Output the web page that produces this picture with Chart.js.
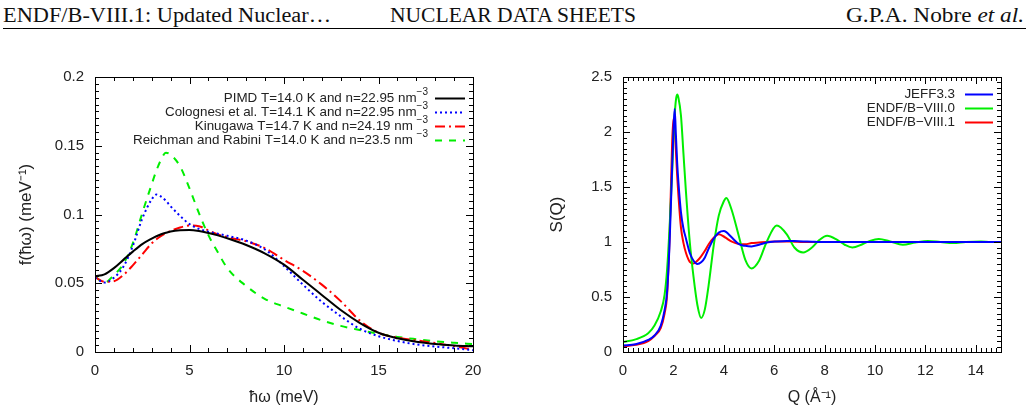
<!DOCTYPE html>
<html>
<head>
<meta charset="utf-8">
<script src="https://cdn.jsdelivr.net/npm/chart.js@4.4.1/dist/chart.umd.min.js"></script>
<style>
  body { margin: 0; width: 1029px; height: 411px; background: #fff; position: relative; overflow: hidden; }
  .hd { position: absolute; top: 4px; font-family: "Liberation Serif", serif; font-size: 20px; white-space: nowrap; transform-origin: left top; color: #111; }
  #rule { position: absolute; left: 3px; top: 28px; width: 1023px; height: 1px; background: #000; }
  canvas { position: absolute; top: 40px; }
</style>
</head>
<body>
<div class="hd" id="h1" style="left:3px">ENDF/B-VIII.1: Updated Nuclear…</div>
<div class="hd" id="h2" style="left:390px">NUCLEAR DATA SHEETS</div>
<div class="hd" id="h3" style="left:846px">G.P.A. Nobre <i>et al.</i></div>
<div id="rule"></div>
<canvas id="dos" width="515" height="371" style="left:0"></canvas>
<canvas id="sq" width="514" height="371" style="left:515px"></canvas>
<script>
// left panel: frequency spectrum f(hw)
const hw = [0, 0.5, 1, 1.5, 2, 2.5, 3, 3.25, 3.5, 3.75, 4, 4.5, 5, 5.5, 6, 6.5, 7, 8, 9, 10, 11, 12, 13, 14, 15, 16, 17, 18, 19, 20];
const pimd = [0.055, 0.0565, 0.061, 0.067, 0.073, 0.0785, 0.0825, 0.0842, 0.0856, 0.0867, 0.0876, 0.0885, 0.0887, 0.0880, 0.0866, 0.0848, 0.0827, 0.0778, 0.0716, 0.0635, 0.0525, 0.0415, 0.0305, 0.0212, 0.0140, 0.0100, 0.0074, 0.0058, 0.0048, 0.0041];
const colognesi = [0.054, 0.0505, 0.054, 0.062, 0.077, 0.097, 0.111, 0.1145, 0.113, 0.110, 0.106, 0.099, 0.093, 0.0895, 0.0875, 0.086, 0.0845, 0.081, 0.0745, 0.0625, 0.049, 0.0365, 0.026, 0.017, 0.0115, 0.008, 0.0055, 0.004, 0.0027, 0.0013];
const kinugawa = [0.0545, 0.051, 0.0515, 0.056, 0.063, 0.071, 0.079, 0.082, 0.0845, 0.0865, 0.088, 0.0905, 0.092, 0.0915, 0.0885, 0.0855, 0.0835, 0.0805, 0.0755, 0.067, 0.059, 0.049, 0.037, 0.023, 0.014, 0.0105, 0.0085, 0.0065, 0.0042, 0.0018];
const reichman = [0.055, 0.0505, 0.056, 0.064, 0.079, 0.101, 0.122, 0.132, 0.140, 0.145, 0.1435, 0.135, 0.119, 0.101, 0.085, 0.0725, 0.061, 0.048, 0.0385, 0.033, 0.028, 0.023, 0.019, 0.016, 0.0133, 0.011, 0.0093, 0.0078, 0.0067, 0.0058];
const dosLabels = [
  "PIMD T=14.0 K and n=22.95 nm",
  "Colognesi et al. T=14.1 K and n=22.95 nm",
  "Kinugawa T=14.7 K and n=24.19 nm ",
  "Reichman and Rabini T=14.0 K and n=23.5 nm "
];

// right panel: structure factor S(Q)
const q = [0, 0.5, 1, 1.25, 1.5, 1.65, 1.75, 1.85, 1.95, 2.0, 2.05, 2.1, 2.15, 2.2, 2.3, 2.4, 2.5, 2.65, 2.8, 2.95, 3.1, 3.25, 3.4, 3.6, 3.8, 4.0, 4.1, 4.3, 4.6, 4.85, 5.1, 5.4, 5.7, 6.1, 6.5, 6.8, 7.15, 7.5, 7.8, 8.1, 8.5, 8.8, 9.1, 9.5, 9.8, 10.15, 10.6, 11.1, 11.6, 12.1, 12.6, 13.1, 13.6, 14.2, 14.6, 15];
const jeff33 = [0.06, 0.07, 0.11, 0.15, 0.24, 0.38, 0.55, 1.0, 1.68, 2.0,
  2.21, 1.97, 1.72, 1.54, 1.27, 1.12, 1.03, 0.9, 0.83, 0.80,
  0.815, 0.86, 0.94, 1.03, 1.085, 1.10, 1.09, 1.045, 0.98, 0.965,
  0.96, 0.975, 0.995, 1.005, 1.01, 1.008, 1.005, 1.003, 1.0, 1.0,
  1.0, 1.0, 1.0, 1.0, 1.0, 1.0, 1.0, 1.0, 1.0, 1.0,
  1.0, 1.0, 1.0, 1.0, 1.0, 1.0];
const endf80 = [0.09, 0.115, 0.17, 0.24, 0.37, 0.52, 0.75, 1.14, 1.63, 1.93,
  2.15, 2.29, 2.34, 2.31, 2.15, 1.8, 1.45, 1.0, 0.68, 0.43,
  0.31, 0.39, 0.61, 0.97, 1.24, 1.37, 1.40, 1.30, 1.05, 0.84,
  0.76, 0.83, 1.0, 1.15, 1.07, 0.95, 0.905, 0.95, 1.02, 1.057,
  1.02, 0.975, 0.95, 0.98, 1.01, 1.027, 1.005, 0.975, 0.995, 1.01,
  1.0, 0.99, 1.0, 1.005, 1.0, 1.0];
const endf81 = [0.05, 0.065, 0.10, 0.145, 0.22, 0.35, 0.52, 1.05, 1.9, 2.12,
  2.05, 1.83, 1.6, 1.42, 1.13, 0.99, 0.9, 0.82, 0.805, 0.83,
  0.87, 0.92, 0.98, 1.04, 1.07, 1.05, 1.035, 1.005, 0.982, 0.98,
  0.99, 0.995, 1.0, 1.005, 1.005, 1.003, 1.0, 1.0, 1.0, 1.0,
  1.0, 1.0, 1.0, 1.0, 1.0, 1.0, 1.0, 1.0, 1.0, 1.0,
  1.0, 1.0, 1.0, 1.0, 1.0, 1.0];
const sqLabels = ["JEFF3.3", "ENDF/B\u2212VIII.0", "ENDF/B\u2212VIII.1"];

const ink = "#222";
const sans = "'Liberation Sans', Arial, sans-serif";

function pts(xs, ys) {
  return xs.map((x, i) => ({ x: x, y: ys[i] }));
}

function line(label, xs, ys, color, dash, sup) {
  return {
    label: label, sup: sup, data: pts(xs, ys),
    borderColor: color, borderWidth: 2, borderDash: dash,
    pointRadius: 0, fill: false, cubicInterpolationMode: "monotone"
  };
}

// gnuplot style box with inward major/minor ticks on all four sides
const frame = {
  id: "frame",
  afterDatasetsDraw(chart, args, o) {
    const { ctx, chartArea: a, scales: { x, y } } = chart;
    ctx.save();
    ctx.strokeStyle = "#000";
    ctx.lineWidth = 1;
    ctx.setLineDash([]);
    ctx.beginPath();
    let n = Math.round((x.max - x.min) / o.xMinor);
    let every = Math.round(o.xMajor / o.xMinor);
    for (let i = 0; i <= n; i++) {
      const px = Math.round(x.getPixelForValue(x.min + i * o.xMinor)) + 0.5;
      const len = i % every === 0 ? 7 : 4;
      ctx.moveTo(px, a.bottom); ctx.lineTo(px, a.bottom - len);
      ctx.moveTo(px, a.top); ctx.lineTo(px, a.top + len);
    }
    n = Math.round((y.max - y.min) / o.yMinor);
    every = Math.round(o.yMajor / o.yMinor);
    for (let i = 0; i <= n; i++) {
      const py = Math.round(y.getPixelForValue(y.min + i * o.yMinor)) + 0.5;
      const len = i % every === 0 ? 7 : 4;
      ctx.moveTo(a.left, py); ctx.lineTo(a.left + len, py);
      ctx.moveTo(a.right, py); ctx.lineTo(a.right - len, py);
    }
    ctx.stroke();
    ctx.strokeRect(Math.round(a.left) + 0.5, Math.round(a.top) + 0.5,
      Math.round(a.right - a.left), Math.round(a.bottom - a.top));
    ctx.restore();
  }
};

// key drawn the gnuplot way: right aligned text, then the line sample
const key = {
  id: "key",
  afterDraw(chart, args, o) {
    const ctx = chart.ctx;
    ctx.save();
    chart.data.datasets.forEach((ds, i) => {
      const yy = o.top + i * o.step;
      ctx.fillStyle = ink;
      ctx.textAlign = "right";
      ctx.textBaseline = "middle";
      let right = o.right;
      if (ds.sup) {
        ctx.font = "10px " + sans;
        ctx.fillText(ds.sup, right, yy - 6);
        right -= ctx.measureText(ds.sup).width;
      }
      ctx.font = "13.4px " + sans;
      ctx.fillText(ds.label, right, yy);
      ctx.strokeStyle = ds.borderColor;
      ctx.lineWidth = ds.borderWidth;
      ctx.setLineDash(ds.borderDash);
      ctx.beginPath();
      ctx.moveTo(o.x0, yy + 0.5);
      ctx.lineTo(o.x1, yy + 0.5);
      ctx.stroke();
    });
    ctx.restore();
  }
};

function fmt(v) {
  return String(+v.toFixed(3));
}

function axes(xmin, xmax, xstep, ymin, ymax, ystep, xtitle, ytitle, yw, ytitlePad) {
  const tickFont = { family: sans, size: 15 };
  return {
    x: {
      type: "linear", min: xmin, max: xmax,
      afterFit(s) { s.height = 59; },
      grid: { display: false, drawTicks: false }, border: { display: false },
      ticks: { stepSize: xstep, includeBounds: false, color: ink, font: tickFont, padding: 10, maxRotation: 0, callback: fmt },
      title: { display: true, text: xtitle, color: ink, font: { family: sans, size: 16 }, padding: { top: 10 } }
    },
    y: {
      type: "linear", min: ymin, max: ymax,
      afterFit(s) { s.width = yw; },
      grid: { display: false, drawTicks: false }, border: { display: false },
      ticks: { stepSize: ystep, includeBounds: false, color: ink, font: tickFont, padding: 11, callback: fmt },
      title: { display: true, text: ytitle, color: ink, font: { family: sans, size: 17 }, padding: { top: ytitlePad } }
    }
  };
}

new Chart(document.getElementById("dos"), {
  type: "line",
  data: {
    datasets: [
      line(dosLabels[0], hw, pimd, "#000000", [], "\u22123"),
      line(dosLabels[1], hw, colognesi, "#0000ff", [2, 3], "\u22123"),
      line(dosLabels[2], hw, kinugawa, "#ff0000", [10, 4, 2, 4], "\u22123"),
      line(dosLabels[3], hw, reichman, "#00ee00", [7, 7], "\u22123")
    ]
  },
  options: {
    responsive: false, animation: false,
    layout: { padding: { top: 37, right: 42, left: 0, bottom: 0 } },
    plugins: {
      legend: { display: false }, tooltip: { enabled: false },
      frame: { xMinor: 1, xMajor: 5, yMinor: 0.005, yMajor: 0.05 },
      key: { right: 428, top: 58, step: 14, x0: 435, x1: 465 }
    },
    scales: axes(0, 20, 5, 0, 0.2, 0.05, "\u0127\u03c9 (meV)", "f(\u0127\u03c9) (meV\u207b\u00b9)", 95, 16)
  },
  plugins: [frame, key]
});

new Chart(document.getElementById("sq"), {
  type: "line",
  data: {
    datasets: [
      line(sqLabels[0], q, jeff33, "#0000ff", []),
      line(sqLabels[1], q, endf80, "#00ee00", []),
      line(sqLabels[2], q, endf81, "#ff0000", [])
    ]
  },
  options: {
    responsive: false, animation: false,
    layout: { padding: { top: 37, right: 28, left: 0, bottom: 0 } },
    plugins: {
      legend: { display: false }, tooltip: { enabled: false },
      frame: { xMinor: 0.2, xMajor: 2, yMinor: 0.05, yMajor: 0.5 },
      key: { right: 440, top: 54, step: 14, x0: 450, x1: 478 }
    },
    scales: axes(0, 15, 2, 0, 2.5, 0.5, "Q (\u00c5\u207b\u00b9)", "S(Q)", 108, 32)
  },
  plugins: [frame, key]
});

// stretch the running head to the widths seen on the page
[["h1", 328], ["h2", 246], ["h3", 178]].forEach(([id, w]) => {
  const el = document.getElementById(id);
  el.style.transform = "scaleX(" + (w / el.getBoundingClientRect().width) + ")";
});
</script>
</body>
</html>
